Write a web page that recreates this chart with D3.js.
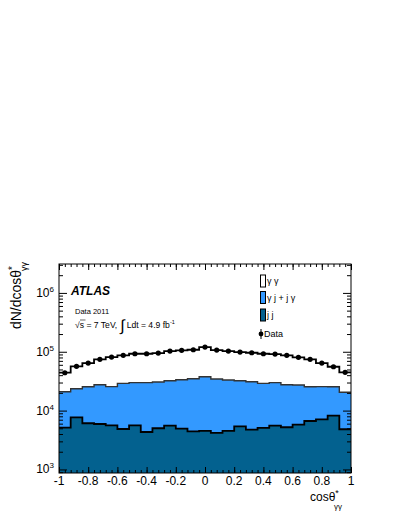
<!DOCTYPE html>
<html>
<head>
<meta charset="utf-8">
<script src="https://cdn.jsdelivr.net/npm/d3@7"></script>
<style>
body { margin: 0; background: #fff; }
text { font-family: "Liberation Sans", Arial, Helvetica, sans-serif; }
</style>
</head>
<body>
<div id="chart"></div>
<script>
// bin edges in cos theta*, 25 bins
var binEdges = [-1, -0.92, -0.84, -0.76, -0.68, -0.6, -0.52, -0.44, -0.36, -0.28, -0.2, -0.12, -0.04,
  0.04, 0.12, 0.2, 0.28, 0.36, 0.44, 0.52, 0.6, 0.68, 0.76, 0.84, 0.92, 1];

// stacked components
var jj = [5130, 7700, 6090, 5920, 5630, 4870, 5630, 4330, 5010, 5540, 4930, 4450, 4510,
  4170, 4510, 5410, 4740, 5070, 5540, 5210, 5760, 6660, 7120, 8190, 4820];
var gj = [15800, 15800, 19400, 21600, 19900, 24200, 24200, 25500, 25600, 26700, 28600, 30400, 33100,
  30200, 28600, 26800, 26200, 24000, 24300, 22300, 21400, 18800, 18400, 17300, 15700];
var gg = [23100, 33000, 38800, 46800, 55800, 57800, 62700, 62700, 64400, 70600, 72100, 73300, 82600,
  72500, 69700, 66600, 65300, 63400, 61600, 59400, 53200, 48800, 38800, 30100, 24200];
var dataPts = [44000, 56500, 64300, 74300, 81300, 86900, 92500, 92500, 95000, 102800, 105600, 108100, 120200,
  106900, 102800, 98800, 96200, 92500, 91400, 86900, 80400, 74300, 64300, 55600, 44700];

var xMajor = [-1, -0.8, -0.6, -0.4, -0.2, 0, 0.2, 0.4, 0.6, 0.8, 1];
var xLabels = ["-1", "-0.8", "-0.6", "-0.4", "-0.2", "0", "0.2", "0.4", "0.6", "0.8", "1"];
var yMajor = [1e3, 1e4, 1e5, 1e6];
var yExp = ["3", "4", "5", "6"];

var legendNames = ["\u03b3 \u03b3", "\u03b3 j + j \u03b3", "j j", "Data"];
var colGG = "#ffffff", colGJ = "#3399ff", colJJ = "#03618f";

var W = 399, H = 516;
var margin = {left: 59, top: 264, right: 48, bottom: 43};
var pw = W - margin.left - margin.right, ph = H - margin.top - margin.bottom;

var x = d3.scaleLinear().domain([-1, 1]).range([0, pw]);
var y = d3.scaleLog().domain([870, 3.1e6]).range([ph, 0]);

var svg = d3.select("#chart").append("svg")
  .attr("width", W).attr("height", H)
  .style("background", "#fff");

var g = svg.append("g")
  .attr("transform", "translate(" + margin.left + "," + margin.top + ")");

g.append("clipPath").attr("id", "clip")
  .append("rect").attr("width", pw).attr("height", ph);

var rows = jj.map(function(v, i) { return {jj: v, gj: gj[i], gg: gg[i]}; });
// repeat last bin so the step reaches the right edge
rows.push(rows[rows.length - 1]);

var stack = d3.stack().keys(["jj", "gj", "gg"]);
var layers = stack(rows);
var fills = {jj: colJJ, gj: colGJ, gg: colGG};

var yb = function(v) { return v <= 0 ? ph : y(v); };

var area = d3.area()
  .curve(d3.curveStepAfter)
  .x(function(d, i) { return x(binEdges[i]); })
  .y0(function(d) { return yb(d[0]); })
  .y1(function(d) { return yb(d[1]); });

var topLine = d3.line()
  .curve(d3.curveStepAfter)
  .x(function(d, i) { return x(binEdges[i]); })
  .y(function(d) { return yb(d[1]); });

var plot = g.append("g").attr("clip-path", "url(#clip)");

// draw from top layer down so outlines sit nicely
layers.slice().reverse().forEach(function(L) {
  plot.append("path")
    .datum(L)
    .attr("d", area)
    .attr("fill", fills[L.key]);
});
layers.forEach(function(L) {
  plot.append("path")
    .datum(L)
    .attr("d", topLine)
    .attr("fill", "none")
    .attr("stroke", L.key == "gj" ? "#333" : "#000")
    .attr("stroke-width", L.key == "gj" ? 1.4 : 1.8);
});

// data points
plot.selectAll(".pt")
  .data(dataPts)
  .enter().append("circle")
  .attr("class", "pt")
  .attr("cx", function(d, i) { return x((binEdges[i] + binEdges[i + 1]) / 2); })
  .attr("cy", function(d) { return y(d); })
  .attr("r", 2.6)
  .attr("fill", "#000");

// axes, ROOT style ticks pointing inward
var xMinor = d3.range(-1, 1.0001, 0.04);
var yMinor = [];
[100, 1000, 10000, 100000, 1000000].forEach(function(dec) {
  for (var k = 2; k <= 9; k++) yMinor.push(dec * k);
});
yMinor = yMinor.filter(function(v) { return v >= 870 && v <= 3.1e6; });

function addAxis(axis, tr) {
  var a = g.append("g").attr("transform", tr).call(axis);
  a.select(".domain").remove();
  a.selectAll("line").attr("stroke", "#000").attr("stroke-width", 1);
  a.selectAll("text").remove();
  return a;
}

addAxis(d3.axisBottom(x).tickValues(xMinor).tickSize(-3), "translate(0," + ph + ")");
addAxis(d3.axisBottom(x).tickValues(xMajor).tickSize(-6), "translate(0," + ph + ")");
addAxis(d3.axisTop(x).tickValues(xMinor).tickSize(-3), "translate(0,0)");
addAxis(d3.axisTop(x).tickValues(xMajor).tickSize(-6), "translate(0,0)");
addAxis(d3.axisLeft(y).tickValues(yMinor).tickSize(-4), "translate(0,0)");
addAxis(d3.axisLeft(y).tickValues(yMajor).tickSize(-8), "translate(0,0)");
addAxis(d3.axisRight(y).tickValues(yMinor).tickSize(-4), "translate(" + pw + ",0)");
addAxis(d3.axisRight(y).tickValues(yMajor).tickSize(-8), "translate(" + pw + ",0)");

// frame
g.append("rect")
  .attr("width", pw).attr("height", ph)
  .attr("fill", "none").attr("stroke", "#000").attr("stroke-width", 1);

// x tick labels
g.selectAll(".xl")
  .data(xMajor)
  .enter().append("text")
  .attr("x", function(d) { return x(d); })
  .attr("y", ph + 12)
  .attr("text-anchor", "middle")
  .attr("font-size", 12)
  .text(function(d, i) { return xLabels[i]; });

// y tick labels 10^n
yMajor.forEach(function(v, i) {
  var t = g.append("text")
    .attr("x", -5)
    .attr("y", y(v) + 4)
    .attr("text-anchor", "end")
    .attr("font-size", 12);
  t.append("tspan").text("10");
  t.append("tspan").attr("font-size", 8).attr("dy", -5).text(yExp[i]);
});

// axis titles
var yt = svg.append("text")
  .attr("transform", "translate(21,262) rotate(-90)")
  .attr("text-anchor", "end")
  .attr("font-size", 14);
yt.append("tspan").text("dN/dcos\u03b8");
yt.append("tspan").attr("font-size", 10).attr("dy", -5).text("*");
yt.append("tspan").attr("font-size", 9).attr("dx", -5).attr("dy", 11).text("\u03b3\u03b3");

var xt = svg.append("text")
  .attr("x", 310).attr("y", 501)
  .attr("font-size", 12);
xt.append("tspan").text("cos\u03b8");
xt.append("tspan").attr("font-size", 9).attr("dy", -5).text("*");
xt.append("tspan").attr("font-size", 8).attr("dx", -5).attr("dy", 13).text("\u03b3\u03b3");

// ATLAS label and info
svg.append("text")
  .attr("x", 71).attr("y", 295)
  .attr("font-size", 12).attr("font-weight", "bold").attr("font-style", "italic")
  .text("ATLAS");
svg.append("text")
  .attr("x", 75).attr("y", 314)
  .attr("font-size", 7.5)
  .text("Data 2011");

var info = svg.append("text").attr("x", 75).attr("y", 328).attr("font-size", 8.6);
info.append("tspan").text("\u221as = 7 TeV,");
info.append("tspan").attr("font-size", 16).attr("dx", 3).attr("dy", 3).text("\u222b");
info.append("tspan").attr("dx", 2).attr("dy", -3).text("Ldt = 4.9 fb");
info.append("tspan").attr("font-size", 5.5).attr("dy", -4).text("-1");
svg.append("line")
  .attr("x1", 80).attr("x2", 85.5).attr("y1", 320).attr("y2", 320)
  .attr("stroke", "#000").attr("stroke-width", 0.6);

// legend
var lg = svg.append("g");
var boxY = [275, 291.5, 309];
[colGG, colGJ, colJJ].forEach(function(c, i) {
  lg.append("rect")
    .attr("x", 260.5).attr("y", boxY[i])
    .attr("width", 5).attr("height", 12)
    .attr("fill", c).attr("stroke", "#000").attr("stroke-width", 1);
  lg.append("text")
    .attr("x", 267).attr("y", boxY[i] + 9)
    .attr("font-size", 9)
    .text(legendNames[i]);
});
lg.append("line").attr("x1", 261).attr("x2", 261).attr("y1", 329).attr("y2", 339)
  .attr("stroke", "#000").attr("stroke-width", 1);
lg.append("circle").attr("cx", 261).attr("cy", 334).attr("r", 2.4).attr("fill", "#000");
lg.append("text")
  .attr("x", 264).attr("y", 337)
  .attr("font-size", 9)
  .text(legendNames[3]);
</script>
</body>
</html>
